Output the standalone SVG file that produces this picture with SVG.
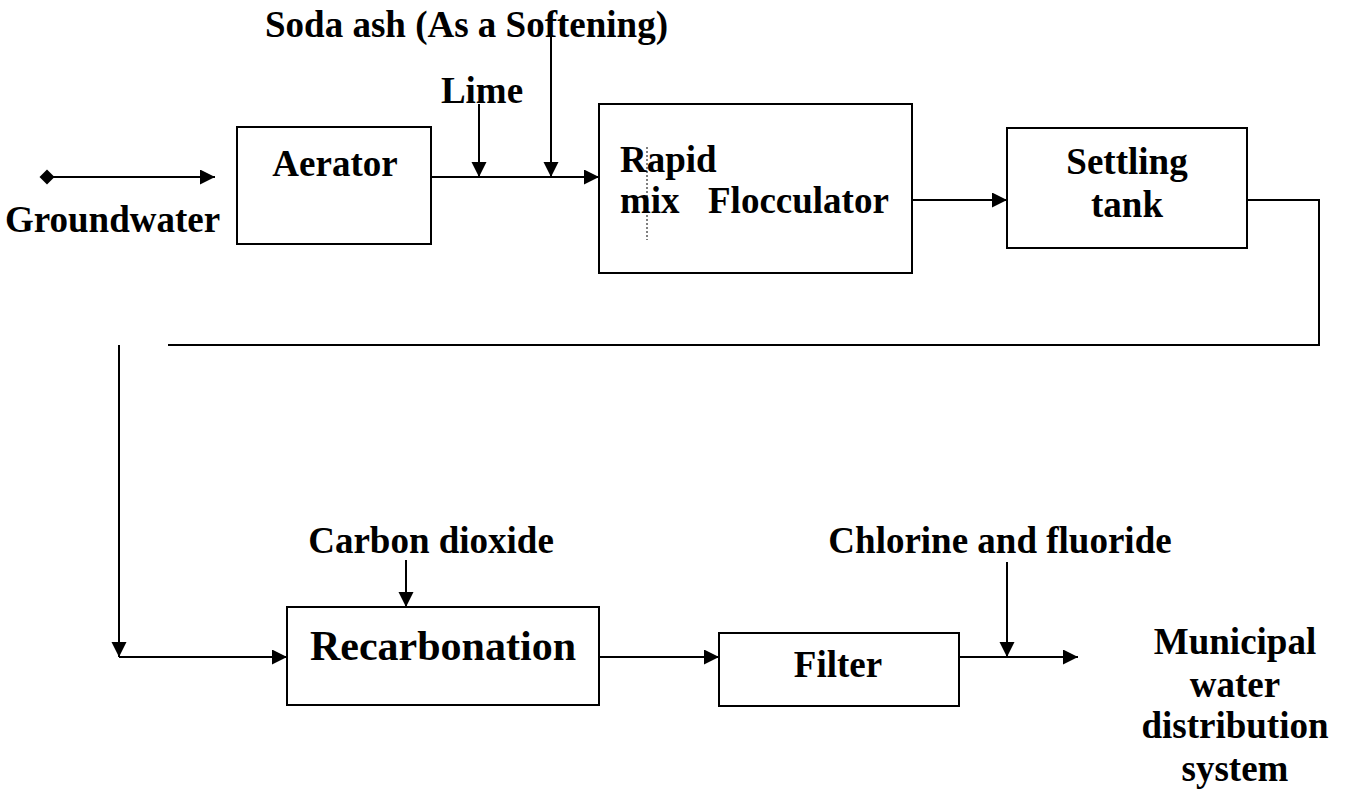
<svg xmlns="http://www.w3.org/2000/svg" width="1345" height="789" viewBox="0 0 1345 789">
<style>
.box{fill:#fff;stroke:#000;stroke-width:2}
.ln{fill:none;stroke:#000;stroke-width:2}
.t{font-family:"Liberation Serif","Times New Roman",serif;font-weight:bold;font-size:37px;fill:#000}
.m{text-anchor:middle}
</style>
<defs>
<marker id="ah" markerUnits="userSpaceOnUse" markerWidth="16" markerHeight="16" refX="15" refY="7.5" orient="auto">
<path d="M0,0 L15,7.5 L0,15 z" fill="#000"/>
</marker>
<marker id="dm" markerUnits="userSpaceOnUse" markerWidth="16" markerHeight="16" refX="8" refY="8" orient="auto">
<path d="M0.5,8 L8,0.5 L15.5,8 L8,15.5 z" fill="#000"/>
</marker>
</defs>
<rect width="1345" height="789" fill="#fff"/>
<g id="connectors">
<line class="ln" x1="47" y1="177" x2="215" y2="177" marker-start="url(#dm)" marker-end="url(#ah)"/>
<line class="ln" x1="431" y1="177" x2="599" y2="177" marker-end="url(#ah)"/>
<line class="ln" x1="479" y1="104" x2="479" y2="177" marker-end="url(#ah)"/>
<line class="ln" x1="551" y1="30" x2="551" y2="177" marker-end="url(#ah)"/>
<line class="ln" x1="912" y1="200" x2="1007" y2="200" marker-end="url(#ah)"/>
<polyline class="ln" points="1247,200 1319,200 1319,345 168,345"/>
<line class="ln" x1="119" y1="345" x2="119" y2="657" marker-end="url(#ah)"/>
<line class="ln" x1="119" y1="657" x2="287" y2="657" marker-end="url(#ah)"/>
<line class="ln" x1="406" y1="560" x2="406" y2="607" marker-end="url(#ah)"/>
<line class="ln" x1="599" y1="657" x2="719" y2="657" marker-end="url(#ah)"/>
<line class="ln" x1="959" y1="657" x2="1078" y2="657" marker-end="url(#ah)"/>
<line class="ln" x1="1007" y1="562" x2="1007" y2="657" marker-end="url(#ah)"/>
</g>
<g id="groundwater"><text class="t" x="5" y="232">Groundwater</text></g>
<g id="aerator">
<rect class="box" x="237" y="127" width="194" height="117"/>
<text class="t m" x="335" y="176">Aerator</text>
</g>
<g id="lime"><text class="t m" x="482" y="103">Lime</text></g>
<g id="soda-ash"><text class="t" x="265" y="37">Soda ash (As a Softening)</text></g>
<g id="rapid-mix-flocculator">
<rect class="box" x="599" y="104" width="313" height="169"/>
<text class="t" x="620" y="172">Rapid</text>
<text class="t" x="620" y="213">mix</text>
<text class="t" x="708" y="213">Flocculator</text>
<line x1="647" y1="147" x2="647" y2="240" stroke="#000" stroke-width="1" stroke-dasharray="2,2"/>
</g>
<g id="settling-tank">
<rect class="box" x="1007" y="128" width="240" height="120"/>
<text class="t m" x="1127" y="174">Settling</text>
<text class="t m" x="1127" y="217">tank</text>
</g>
<g id="carbon-dioxide"><text class="t m" x="431" y="553">Carbon dioxide</text></g>
<g id="recarbonation">
<rect class="box" x="287" y="607" width="312" height="98"/>
<text class="t m" x="443" y="660" style="font-size:42px">Recarbonation</text>
</g>
<g id="filter">
<rect class="box" x="719" y="633" width="240" height="73"/>
<text class="t m" x="838" y="677">Filter</text>
</g>
<g id="chlorine-fluoride"><text class="t m" x="1000" y="553">Chlorine and fluoride</text></g>
<g id="municipal">
<text class="t m" x="1235" y="654">Municipal</text>
<text class="t m" x="1235" y="697">water</text>
<text class="t m" x="1235" y="738">distribution</text>
<text class="t m" x="1235" y="781">system</text>
</g>
</svg>
